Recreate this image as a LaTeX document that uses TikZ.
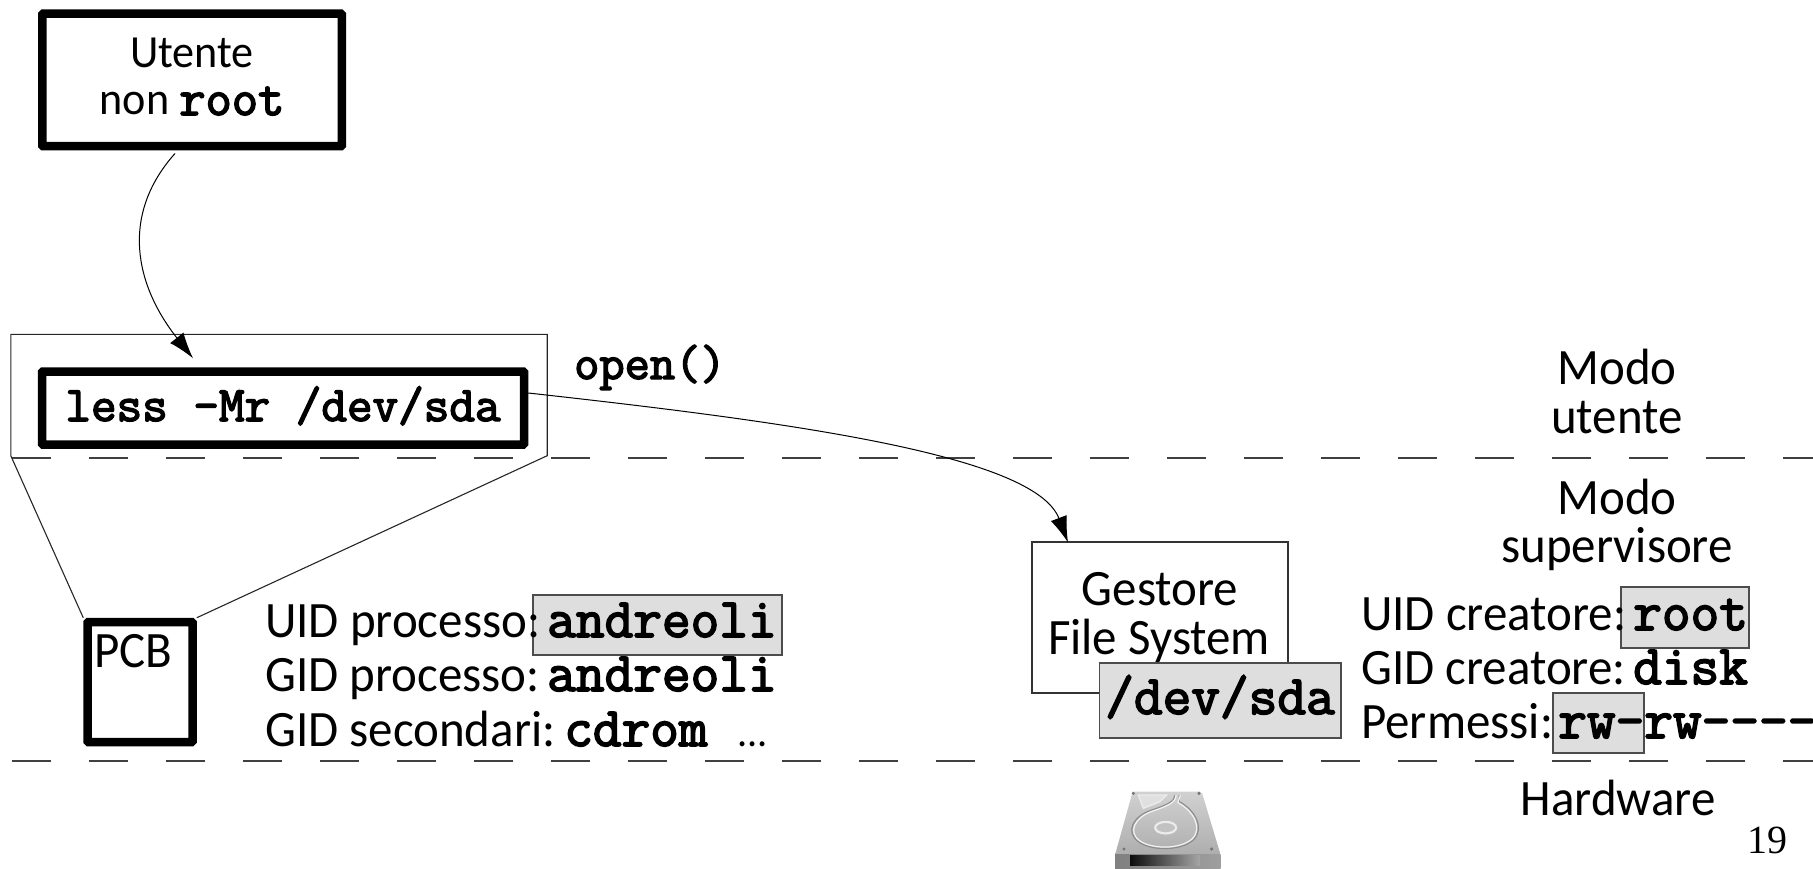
\documentclass[tikz,border=0pt]{standalone}
\usepackage{fontspec}
\setmainfont{Carlito}[FakeStretch=0.96]
\newfontfamily\numfont{Liberation Serif}
\newfontfamily\mbf{Latin Modern Mono}[FakeBold=3]
\usetikzlibrary{arrows.meta,calc}
\definecolor{hl}{gray}{0.87}
\newcommand{\sz}{\fontsize{51}{54}\selectfont}
\newcommand{\ttb}[1]{{\fontsize{55.7}{58}\selectfont\mbf #1}}
\tikzset{
  thick box/.style={draw=black,line width=8.5pt,rounded corners=1pt,inner sep=0pt},
  thin box/.style={draw=black!80,line width=1.1pt,inner sep=0pt},
  grey box/.style={draw=black!70,line width=1.1pt,fill=hl,inner sep=0pt},
  lbl/.style={inner sep=0pt,anchor=base west,font=\sz},
  clbl/.style={inner sep=0pt,anchor=base,font=\sz},
  conn/.style={draw=black,line width=1pt,-{Latex[length=26pt,width=17pt]}},
  plain/.style={draw=black!85,line width=1.1pt},
  modeline/.style={draw=black!75,line width=1.2pt,dash pattern=on 39pt off 38pt,dash phase=0pt},
}
\begin{document}
\begin{tikzpicture}[x=1pt,y=-1pt]
\useasboundingbox (0,0) rectangle (1813,869);
% mode lines
\coordinate (la) at (12,458); \coordinate (lb) at (1813,458);
\coordinate (lc) at (12,761); \coordinate (ld) at (1813,761);
\draw[modeline] (la) -- (lb);
\draw[modeline] (lc) -- (ld);
% boxes
\node[thick box,minimum width=299.5pt,minimum height=132.5pt] (utente) at (192,80) {};
\node[inner sep=0pt,anchor=base,font=\fontsize{46}{50}\selectfont] (t1) at (192,68) {Utente};
\node[inner sep=0pt,anchor=base,font=\fontsize{46}{50}\selectfont] (t2) at (192,115) {non {\fontsize{51}{54}\selectfont\mbf root}};
\node[minimum width=536pt,minimum height=121pt,inner sep=0pt] (pbox) at (279,395) {};
\node[thick box,minimum width=482pt,minimum height=73pt] (less) at (283,408) {};
\node[inner sep=0pt,anchor=base] (lesst) at (283,421) {\fontsize{49.7}{52}\selectfont\mbf less -Mr /dev/sda};
\node[inner sep=0pt,anchor=base west] (open) at (574,379) {\fontsize{49}{52}\selectfont\mbf open()};
\node[thick box,minimum width=105pt,minimum height=120pt] (pcb) at (140,682) {};
\node[lbl] (pcbt) at (94,667) {PCB};
\draw[plain] (pcb.north west) -- (pbox.south west) -- (pbox.north west) -- (pbox.north east) -- (pbox.south east) -- (pcb.north east);
% process ids
\node[grey box,minimum width=249pt,minimum height=60pt] (hl1) at (657.5,625) {};
\node[lbl] (u1) at (265,637) {UID processo:};
\node[inner sep=0pt,anchor=base west] (u1v) at (547,637) {\ttb{andreoli}};
\node[lbl] (u2) at (265,691) {GID processo:};
\node[inner sep=0pt,anchor=base west] (u2v) at (547,691) {\ttb{andreoli}};
\node[lbl] (u3) at (265,746) {GID secondari:};
\node[inner sep=0pt,anchor=base west] (u3v) at (564,746) {\ttb{cdrom}};
\node[inner sep=0pt,anchor=base west,font=\fontsize{42}{44}\selectfont] (u3d) at (737,746) {...};
% file system
\node[thin box,fill=white,minimum width=256pt,minimum height=151pt] (gfs) at (1160,617.5) {};
\node[clbl] (g1) at (1160,605) {Gestore};
\node[clbl] (g2) at (1159,654) {File System};
\node[grey box,minimum width=241.5pt,minimum height=75pt] (dev) at (1220.25,700.5) {};
\node[inner sep=0pt,anchor=base] (devt) at (1220,714) {\ttb{/dev/sda}};
% file attributes
\node[grey box,minimum width=128pt,minimum height=61pt] (hl2) at (1685,617.5) {};
\node[grey box,minimum width=91pt,minimum height=60pt] (hl3) at (1598.5,723) {};
\node[lbl] (f1) at (1361,630) {UID creatore:};
\node[inner sep=0pt,anchor=base west] (f1v) at (1633,630) {\ttb{root}};
\node[lbl] (f2) at (1361,684) {GID creatore:};
\node[inner sep=0pt,anchor=base west] (f2v) at (1633,684) {\ttb{disk}};
\node[lbl] (f3) at (1361,738) {Permessi:};
\node[inner sep=0pt,anchor=base west] (f3v) at (1558,738) {\ttb{rw-rw----}};
% modes
\node[clbl] (m1) at (1617,384) {Modo};
\node[clbl] (m2) at (1617,433) {utente};
\node[clbl] (m3) at (1617,514) {Modo};
\node[clbl] (m4) at (1617,562) {supervisore};
\node[clbl] (m5) at (1618,815) {Hardware};
\node[inner sep=0pt,anchor=base east] (pg) at (1788,853) {\fontsize{40}{44}\selectfont\numfont 19};
% disk
\begin{scope}[shift={(1100,780)},x=0.3333pt,y=-0.3333pt]
\shade[top color=black!18,bottom color=black!32,rounded corners=2pt] (98,35) -- (305,35) -- (362,225) -- (45,225) -- cycle;
\shade[left color=black!50,right color=black!38] (45,225) -- (362,225) -- (362,268) -- (45,268) -- cycle;
\shade[left color=black!95,right color=black!35] (90,228) -- (300,228) -- (300,258) -- (90,258) -- cycle;
\fill[black!12] (115,45) -- (200,45) -- (180,65) -- (130,85) -- cycle;
\draw[black!8,line width=1.4pt] (115,45) -- (200,45) -- (180,65) -- (130,85) -- cycle;
\draw[black!45,line width=1.2pt] (225,45) .. controls (225,65) and (200,75) .. (150,92) .. controls (100,110) and (75,155) .. (115,185) .. controls (150,212) and (240,215) .. (280,180) .. controls (315,145) and (285,90) .. (238,65) -- (238,45);
\draw[black!5,line width=1.2pt] (228,45) .. controls (228,68) and (203,78) .. (153,95) .. controls (106,113) and (82,155) .. (119,182) .. controls (152,207) and (238,210) .. (276,177) .. controls (309,145) and (281,93) .. (234,68) -- (241,45);
\draw[black!8,line width=2.2pt,fill=black!24] (197,143) ellipse (10.5pt and 5.8pt);
\foreach \a/\b in {100/40,297/40,72/207,335/207}{\fill[black!55] (\a,\b) circle (1.7pt);}
\end{scope}
% connectors
\draw[conn] ([xshift=-17pt,yshift=-3pt]utente.south) .. controls (120,215) and (135,285) .. ([xshift=-90pt,yshift=9pt]less.north);
\draw[conn] ([yshift=15pt]less.east) .. controls (790,422) and (1035,455) .. ([xshift=-92pt,yshift=-1pt]gfs.north);
\end{tikzpicture}
\end{document}
